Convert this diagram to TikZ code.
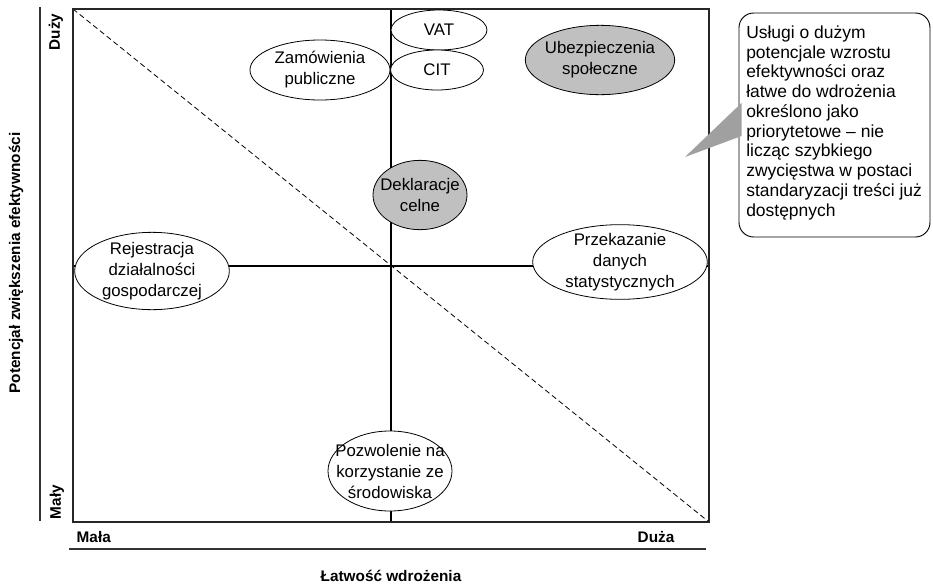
\documentclass[tikz,border=0pt]{standalone}
\usepackage{fontspec}
\setmainfont{Liberation Sans}
\usetikzlibrary{shapes.geometric}
\definecolor{bubblegray}{HTML}{C0C0C0}
\definecolor{wedgegray}{HTML}{A0A0A0}
\tikzset{
  frame/.style={line width=1.3pt, draw=black!85},
  axisline/.style={line width=1.2pt, draw=black!80},
  quad/.style={line width=0.9pt},
  bubble/.style={ellipse, draw, line width=0.6pt, fill=white, inner sep=0pt},
  hot/.style={bubble, fill=bubblegray},
  btext/.style={align=center, inner sep=0pt, font=\fontsize{12.6}{15.75}\selectfont},
  axislabel/.style={font=\bfseries\fontsize{11.5}{13}\selectfont},
  note/.style={font=\fontsize{13.1}{14.8}\selectfont, align=left, inner sep=0pt}
}
\begin{document}
\begin{tikzpicture}[x=0.75pt,y=-0.75pt]
\useasboundingbox (0,0) rectangle (933,586);

% frame corners and quadrant centre
\coordinate (tl) at (73,9);
\coordinate (br) at (709,522);
\coordinate (mt) at (391,9);
\coordinate (mb) at (391,522);
\coordinate (ml) at (73,266);
\coordinate (mr) at (709,266);

% quadrant dividers and diagonal
\draw[quad] (mt) -- (mb);
\draw[quad] (ml) -- (mr);
\draw[dashed, line width=0.6pt, dash pattern=on 4pt off 2.5pt] (tl) -- (br);

% matrix frame
\draw[frame] (tl) rectangle (br);

% axis rules
\coordinate (ya) at (40,7);
\coordinate (yb) at (40,521);
\coordinate (xa) at (69,549);
\coordinate (xb) at (706,549);
\draw[axisline] (ya) -- (yb);
\draw[axisline] (xa) -- (xb);

% axis labels
\node[axislabel, rotate=90] (ybig) at (56,32) {Duży};
\node[axislabel, rotate=90] (ysmall) at (57,502) {Mały};
\node[axislabel, anchor=west] (xsmall) at (72,537) {Mała};
\node[axislabel] (xbig) at (656,537) {Duża};
\node[axislabel] (xtitle) at (391,576) {Łatwość wdrożenia};
\node[axislabel, rotate=90] (ytitle) at (16,263) {Potencjał zwiększenia efektywności};

% services: outline first, caption on top
\node[bubble, minimum width=105pt, minimum height=45pt] (zam) at (320,70) {};
\node[btext] (zamtext) at (zam.center) {Zamówienia\\publiczne};
\node[bubble, minimum width=72pt, minimum height=30pt] (vat) at (439,30) {};
\node[btext] (vattext) at (vat.center) {VAT};
\node[bubble, minimum width=69.75pt, minimum height=30pt] (cit) at (437,70) {};
\node[btext] (cittext) at (cit.center) {CIT};
\node[hot, minimum width=112pt, minimum height=52pt] (ubez) at (600,60) {};
\node[btext] (ubeztext) at (ubez.center) {Ubezpieczenia\\społeczne};
\node[hot, minimum width=70.5pt, minimum height=52pt] (dekl) at (420,195) {};
\node[btext] (dekltext) at (dekl.center) {Deklaracje\\celne};
\node[bubble, minimum width=116pt, minimum height=58pt] (rej) at (152,271) {};
\node[btext] (rejtext) at (rej.center) {Rejestracja\\działalności\\gospodarczej};
\node[bubble, minimum width=131pt, minimum height=56pt] (stat) at (620,262) {};
\node[btext] (stattext) at (stat.center) {Przekazanie\\danych\\statystycznych};
\node[bubble, minimum width=93pt, minimum height=60pt] (poz) at (390,471) {};
\node[btext] (poztext) at (poz.center) {Pozwolenie na\\korzystanie ze\\środowiska};

% callout
\coordinate (cbtl) at (739,13);
\coordinate (cbbr) at (930,237);
\draw[line width=0.7pt, rounded corners=11pt] (cbtl) rectangle (cbbr);
\coordinate (wa) at (741.5,103);
\coordinate (wtip) at (685,157);
\coordinate (wb) at (741.5,136);
\fill[wedgegray] (wa) -- (wtip) -- (wb) -- cycle;
\node[note, anchor=north west] (notetext) at (746,25.5) {Usługi o dużym\\potencjale wzrostu\\efektywności oraz\\łatwe do wdrożenia\\określono jako\\priorytetowe – nie\\licząc szybkiego\\zwycięstwa w postaci\\standaryzacji treści już\\dostępnych};
\end{tikzpicture}
\end{document}
